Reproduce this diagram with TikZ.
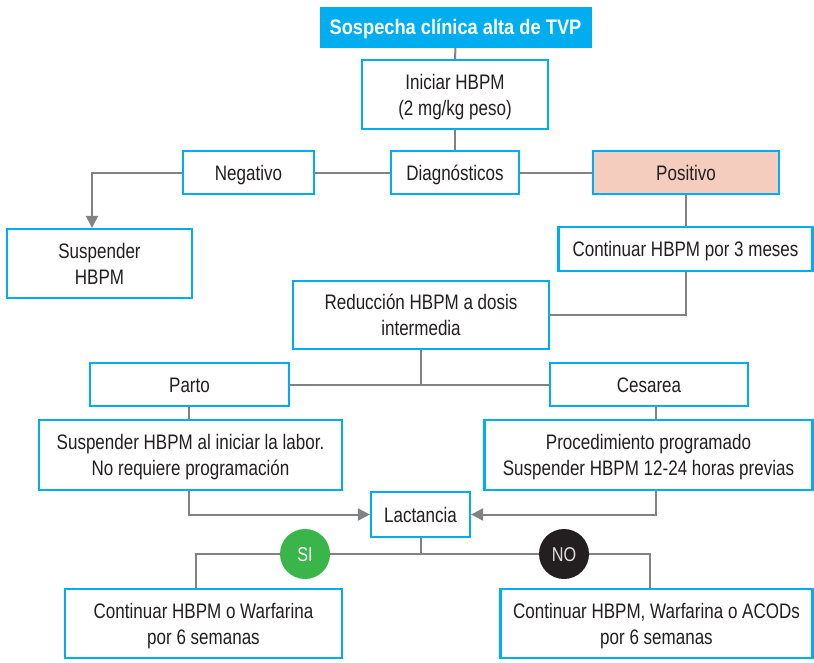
\documentclass[tikz,border=0pt]{standalone}
\usepackage{fontspec}
\setmainfont{Liberation Sans}[FakeStretch=0.81]
\newfontfamily\headfont{Liberation Sans Bold}[FakeStretch=0.87]
\usetikzlibrary{arrows.meta}
\definecolor{boxblue}{HTML}{00AEEF}
\definecolor{peach}{HTML}{F5CDBE}
\definecolor{linegray}{HTML}{808285}
\definecolor{textdark}{HTML}{231F20}
\definecolor{yesgreen}{HTML}{39B54A}
\begin{document}
\begin{tikzpicture}[x=1pt,y=-1pt,
  box/.style={draw=boxblue, line width=2.2pt, fill=white, align=center,
    text=textdark, inner sep=0pt, text height=15pt, text depth=0pt,
    font=\fontsize{21}{26}\selectfont},
  twoline/.style={text height=41pt},
  headbox/.style={fill=boxblue, text=white, inner sep=0pt,
    text height=15pt, text depth=0pt,
    font=\headfont\fontsize{21}{26}\selectfont},
  badge/.style={circle, minimum size=50pt, inner sep=0pt,
    text height=14pt, text depth=0pt,
    font=\fontsize{20}{24}\selectfont},
  link/.style={draw=linegray, line width=2pt},
  arrowlink/.style={link, -{Triangle[length=12pt,width=12pt]}},
]
\useasboundingbox (0,0) rectangle (814,662);

% boxes
\node[headbox, minimum width=272pt, minimum height=41pt] (top) at (455.5,27) {Sospecha clínica alta de TVP};
\node[box, twoline, minimum width=186pt, minimum height=69pt] (init) at (455,94.5) {Iniciar HBPM\\(2 mg/kg peso)};
\node[box, minimum width=131pt, minimum height=43pt] (neg) at (248.5,172.5) {Negativo};
\node[box, minimum width=128pt, minimum height=43pt] (diag) at (455,172.5) {Diagnósticos};
\node[box, fill=peach, minimum width=186pt, minimum height=43pt] (pos) at (686,172.5) {Positivo};
\node[box, twoline, minimum width=185pt, minimum height=69pt] (susp) at (99.5,263.5) {Suspender\\HBPM};
\node[box, minimum width=254pt, minimum height=44pt] (cont) at (685.5,249) {Continuar HBPM por 3 meses};
\node[box, twoline, minimum width=256pt, minimum height=68pt] (red) at (421,315) {Reducción HBPM a dosis\\intermedia};
\node[box, minimum width=199pt, minimum height=43pt] (parto) at (189.5,384.5) {Parto};
\node[box, minimum width=198pt, minimum height=43pt] (ces) at (649,384.5) {Cesarea};
\node[box, twoline, minimum width=303pt, minimum height=70pt] (labor) at (190.5,455) {Suspender HBPM al iniciar la labor.\\No requiere programación};
\node[box, twoline, minimum width=328pt, minimum height=70pt] (proc) at (648.5,455) {Procedimiento programado\\Suspender HBPM 12-24 horas previas};
\node[box, minimum width=99pt, minimum height=45pt] (lact) at (420.5,514.5) {Lactancia};
\node[badge, fill=yesgreen, text=white] (si) at (305,554) {SI};
\node[badge, fill=textdark, text=white!88!black] (no) at (564,554) {NO};
\node[box, twoline, minimum width=277pt, minimum height=69pt] (warf) at (203.5,623.5) {Continuar HBPM o Warfarina\\por 6 semanas};
\node[box, twoline, minimum width=312pt, minimum height=69pt] (acod) at (656.5,623.5) {Continuar HBPM, Warfarina o ACODs\\por 6 semanas};

% connectors
\draw[link] (top.south) -- (init.north);
\draw[link] (init.south) -- (diag.north);
\draw[link] (neg.east) -- (diag.west);
\draw[link] (diag.east) -- (pos.west);
\draw[arrowlink] (neg.west) -| ([xshift=-7.5pt]susp.north);
\draw[link] (pos.south) -- (pos.south |- cont.north);
\draw[link] (cont.south) |- (red.east);
\draw[link] (red.south) -- (red.south |- parto.east);
\draw[link] (parto.east) -- (ces.west);
\draw[link] ([xshift=-0.5pt]parto.south) -- ([xshift=-0.5pt]parto.south |- labor.north);
\draw[link] ([xshift=7pt]ces.south) -- ([xshift=7pt]ces.south |- proc.north);
\draw[arrowlink] ([xshift=-1.5pt]labor.south) |- (lact.west);
\draw[arrowlink] ([xshift=7.5pt]proc.south) |- (lact.east);
\draw[link] (lact.south) -- (lact.south |- si.center);
\draw[link] ([xshift=-7.5pt]warf.north) |- (si.west);
\draw[link] (si.east) -- (no.west);
\draw[link] (no.east) -| ([xshift=-6.5pt]acod.north);
\end{tikzpicture}
\end{document}
